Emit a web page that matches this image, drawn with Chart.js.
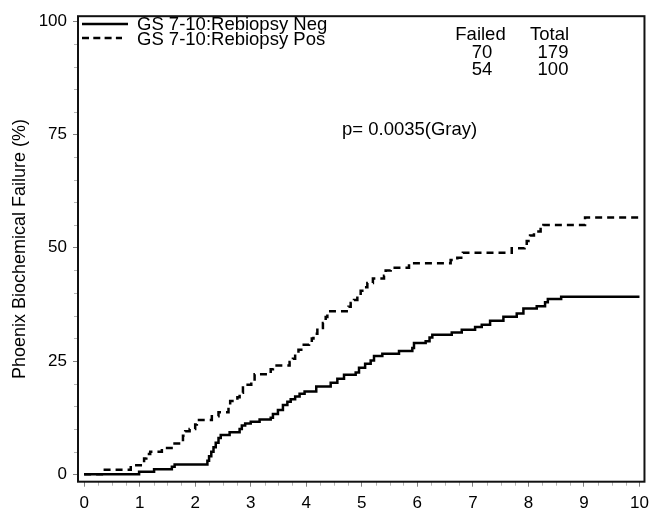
<!DOCTYPE html>
<html>
<head>
<meta charset="utf-8">
<script src="https://cdn.jsdelivr.net/npm/chart.js@4/dist/chart.umd.min.js"></script>
<style>
  html, body { margin: 0; padding: 0; background: #fff; }
  canvas { display: block; }
</style>
</head>
<body>
<canvas id="c" width="655" height="515"></canvas>
<script>
// Cumulative biochemical failure (%) by years after treatment
const negLabel = 'GS 7-10:Rebiopsy Neg';
const posLabel = 'GS 7-10:Rebiopsy Pos';

const negYears = [0, 0.99, 1.26, 1.58, 1.63, 2.22, 2.25, 2.29, 2.33, 2.37, 2.42, 2.46, 2.62, 2.80, 2.84, 2.90, 3.00, 3.16, 3.36, 3.40, 3.49, 3.58, 3.66, 3.72, 3.80, 3.88, 3.97, 4.18, 4.44, 4.56, 4.68, 4.89, 4.95, 5.06, 5.16, 5.22, 5.37, 5.67, 5.91, 5.94, 6.15, 6.22, 6.27, 6.62, 6.80, 7.04, 7.16, 7.31, 7.55, 7.79, 7.91, 8.15, 8.30, 8.35, 8.59, 10];
const negFail  = [0, 0.6, 1.1, 1.7, 2.2, 3.0, 4.0, 5.0, 6.0, 7.0, 8.0, 8.7, 9.3, 10.0, 10.8, 11.2, 11.6, 12.1, 12.5, 13.3, 14.2, 15.3, 16.0, 16.6, 17.2, 17.8, 18.3, 19.4, 20.2, 21.1, 22.0, 22.5, 23.5, 24.4, 25.1, 26.1, 26.6, 27.2, 27.9, 29.0, 29.4, 30.2, 30.8, 31.3, 31.9, 32.5, 33.0, 33.9, 34.8, 35.5, 36.6, 37.1, 38.0, 38.7, 39.2, 39.2];

const posYears = [0, 0.32, 0.84, 1.08, 1.12, 1.19, 1.40, 1.60, 1.78, 1.82, 1.90, 2.00, 2.03, 2.30, 2.42, 2.60, 2.63, 2.76, 2.80, 2.86, 3.01, 3.07, 3.36, 3.40, 3.70, 3.76, 3.80, 3.86, 3.91, 4.05, 4.10, 4.13, 4.20, 4.30, 4.35, 4.38, 4.76, 4.80, 4.86, 4.92, 4.98, 5.04, 5.10, 5.20, 5.40, 5.43, 5.52, 5.85, 6.60, 6.72, 6.82, 7.70, 7.93, 7.97, 8.03, 8.10, 8.22, 8.27, 9.02, 10];
const posFail  = [0, 1.0, 2.0, 3.5, 4.5, 5.0, 5.8, 6.8, 8.5, 9.5, 10.0, 11.0, 12.0, 12.8, 13.7, 15.0, 16.2, 17.0, 18.0, 19.8, 20.6, 22.1, 23.2, 24.0, 24.8, 25.5, 26.5, 27.5, 28.6, 29.0, 30.0, 31.0, 32.3, 33.4, 34.7, 36.0, 37.0, 37.8, 38.5, 39.5, 40.5, 41.3, 42.2, 43.2, 43.8, 45.0, 45.6, 46.6, 47.3, 47.8, 48.9, 49.9, 50.5, 51.5, 52.7, 53.6, 54.4, 55.0, 56.7, 56.7];

const xTicks = [0, 1, 2, 3, 4, 5, 6, 7, 8, 9, 10];
const yTicks = [0, 25, 50, 75, 100];

const tableHeader = ['Failed', 'Total'];
const tableRows = [['70', '179'], ['54', '100']];
const pValueText = 'p= 0.0035(Gray)';
const yTitle = 'Phoenix Biochemical Failure (%)';

const FONT = "'Liberation Sans', Arial, Helvetica, sans-serif";
Chart.defaults.color = '#000';
Chart.defaults.font.family = FONT;

const toPoints = (xs, ys) => xs.map((x, i) => ({ x: x, y: ys[i] }));

function label(ctx, s, x, y, align) {
  ctx.textAlign = align;
  ctx.textBaseline = 'middle';
  ctx.fillText(s, x, y);
}

// frame, minor ticks, inset legend, counts table and p-value
const decorations = {
  id: 'decorations',
  afterDraw(chart) {
    const { ctx, chartArea: a, scales } = chart;
    const xs = scales.x, ys = scales.y;
    ctx.save();

    // minor tick marks
    ctx.strokeStyle = '#b5b5b5';
    ctx.lineWidth = 1;
    ctx.beginPath();
    for (let t = 0; t <= 10.001; t += 0.25) {
      if (Math.abs(t - Math.round(t)) < 1e-6) continue;
      const px = Math.round(xs.getPixelForValue(t)) + 0.5;
      ctx.moveTo(px, a.bottom);
      ctx.lineTo(px, a.bottom + 4);
    }
    for (let v = 0; v <= 100; v += 5) {
      if (v % 25 === 0) continue;
      const py = Math.round(ys.getPixelForValue(v)) + 0.5;
      ctx.moveTo(a.left, py);
      ctx.lineTo(a.left - 4, py);
    }
    ctx.stroke();

    // plot frame
    ctx.strokeStyle = '#111';
    ctx.lineWidth = 2;
    ctx.strokeRect(a.left, a.top, a.right - a.left, a.bottom - a.top);

    // legend
    ctx.fillStyle = '#000';
    ctx.strokeStyle = '#000';
    ctx.lineWidth = 2.5;
    ctx.setLineDash([]);
    ctx.beginPath();
    ctx.moveTo(82, 24); ctx.lineTo(128, 24);
    ctx.stroke();
    ctx.setLineDash([7, 4.3]);
    ctx.beginPath();
    ctx.moveTo(82, 38); ctx.lineTo(122, 38);
    ctx.stroke();
    ctx.setLineDash([]);

    ctx.font = '18.5px ' + FONT;
    label(ctx, chart.data.datasets[0].label, 137, 25, 'left');
    label(ctx, chart.data.datasets[1].label, 137, 39.5, 'left');

    // counts table
    label(ctx, tableHeader[0], 480.5, 35, 'center');
    label(ctx, tableHeader[1], 549.5, 35, 'center');
    tableRows.forEach((row, i) => {
      const y = 53 + i * 16.8;
      label(ctx, row[0], 482, y, 'center');
      label(ctx, row[1], 553, y, 'center');
    });

    // p-value
    label(ctx, pValueText, 342, 130, 'left');
    ctx.restore();
  }
};

new Chart(document.getElementById('c'), {
  type: 'line',
  data: {
    datasets: [
      {
        label: negLabel,
        data: toPoints(negYears, negFail),
        borderColor: '#000',
        borderWidth: 2.5,
        stepped: 'before',
        pointRadius: 0,
        fill: false
      },
      {
        label: posLabel,
        data: toPoints(posYears, posFail),
        borderColor: '#000',
        borderWidth: 2.5,
        borderDash: [7, 5],
        stepped: 'before',
        pointRadius: 0,
        fill: false
      }
    ]
  },
  options: {
    responsive: false,
    animation: false,
    devicePixelRatio: 1,
    layout: { padding: { left: 0, top: 11.7, right: 8.3, bottom: 0 } },
    plugins: {
      legend: { display: false },
      tooltip: { enabled: false }
    },
    scales: {
      x: {
        type: 'linear',
        min: -0.11,
        max: 10.09,
        afterBuildTicks: s => { s.ticks = xTicks.map(v => ({ value: v })); },
        afterFit: s => { s.height = 33.3; },
        border: { display: false },
        grid: { drawOnChartArea: false, drawTicks: true, tickLength: 5, tickColor: '#808080', lineWidth: 1 },
        ticks: { padding: 6, maxRotation: 0, autoSkip: false, color: '#000', font: { size: 17 } }
      },
      y: {
        type: 'linear',
        min: -1.62,
        max: 101.1,
        afterBuildTicks: s => { s.ticks = yTicks.map(v => ({ value: v })); },
        afterFit: s => { s.width = 78; },
        border: { display: false },
        grid: { drawOnChartArea: false, drawTicks: true, tickLength: 5, tickColor: '#808080', lineWidth: 1 },
        ticks: { padding: 6, autoSkip: false, color: '#000', font: { size: 17 } },
        title: {
          display: true,
          text: yTitle,
          color: '#000',
          font: { size: 18 },
          padding: { top: 9, bottom: 0 }
        }
      }
    }
  },
  plugins: [decorations]
});
</script>
</body>
</html>
